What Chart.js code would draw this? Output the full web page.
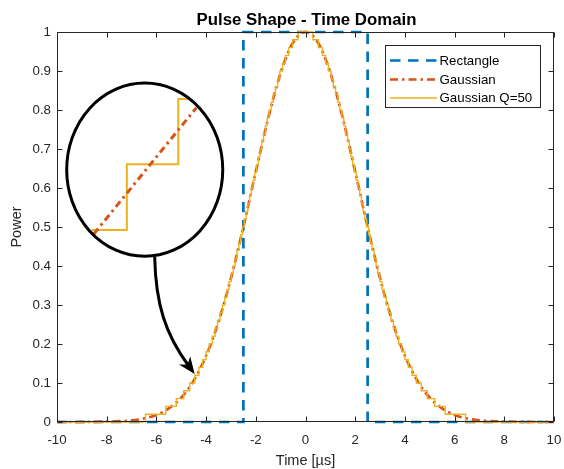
<!DOCTYPE html>
<html>
<head>
<meta charset="utf-8">
<script src="https://cdn.jsdelivr.net/npm/chart.js@4.4.1/dist/chart.umd.min.js"></script>
<style>
  html, body { margin: 0; padding: 0; background: #fff; }
  canvas { display: block; }
</style>
</head>
<body>
<canvas id="pulse" width="564" height="469"></canvas>
<script>
///////////////////////////////////////////////////////////////
// data
///////////////////////////////////////////////////////////////

const rectX = [-10, -2.5, -2.5, 2.5, 2.5, 10];
const rectY = [0, 0, 1, 1, 0, 0];

const timeX = [-10, -9, -8, -7.5, -7, -6.5, -6, -5.5, -5, -4.5, -4, -3.5, -3, -2.5, -2, -1.5, -1, -0.5,
  0, 0.5, 1, 1.5, 2, 2.5, 3, 3.5, 4, 4.5, 5, 5.5, 6, 6.5, 7, 7.5, 8, 9, 10];
const gaussY = [0, 0.0001, 0.001, 0.002, 0.004, 0.009, 0.018, 0.035, 0.0625, 0.106, 0.170, 0.257, 0.369, 0.500, 0.642, 0.779, 0.895, 0.973,
  1, 0.973, 0.895, 0.779, 0.642, 0.500, 0.369, 0.257, 0.170, 0.106, 0.0625, 0.035, 0.018, 0.009, 0.004, 0.002, 0.001, 0.0001, 0];

// quantised gaussian: x where the level changes, and the level from there on
const quantX = [-10, -6.44, -5.62, -5.20, -4.90, -4.66, -4.46, -4.29, -4.14, -4.00, -3.87, -3.75, -3.64, -3.54, -3.44, -3.34,
  -3.25, -3.16, -3.08, -2.99, -2.91, -2.84, -2.76, -2.68, -2.61, -2.54, -2.46, -2.39, -2.32, -2.25, -2.18, -2.11, -2.04,
  -1.97, -1.90, -1.83, -1.76, -1.69, -1.61, -1.54, -1.46, -1.38, -1.30, -1.21, -1.12, -1.03, -0.92, -0.81, -0.68, -0.52, -0.30,
  0.30, 0.52, 0.68, 0.81, 0.92, 1.03, 1.12, 1.21, 1.30, 1.38, 1.46, 1.54, 1.61, 1.69, 1.76, 1.83, 1.90, 1.97, 2.04,
  2.11, 2.18, 2.25, 2.32, 2.39, 2.46, 2.54, 2.61, 2.68, 2.76, 2.84, 2.91, 2.99, 3.08, 3.16, 3.25, 3.34, 3.44, 3.54,
  3.64, 3.75, 3.87, 4.00, 4.14, 4.29, 4.46, 4.66, 4.90, 5.20, 5.62, 6.44, 10];
const quantY = [0, 0.02, 0.04, 0.06, 0.08, 0.10, 0.12, 0.14, 0.16, 0.18, 0.20, 0.22, 0.24, 0.26, 0.28, 0.30,
  0.32, 0.34, 0.36, 0.38, 0.40, 0.42, 0.44, 0.46, 0.48, 0.50, 0.52, 0.54, 0.56, 0.58, 0.60, 0.62, 0.64,
  0.66, 0.68, 0.70, 0.72, 0.74, 0.76, 0.78, 0.80, 0.82, 0.84, 0.86, 0.88, 0.90, 0.92, 0.94, 0.96, 0.98, 1.00,
  0.98, 0.96, 0.94, 0.92, 0.90, 0.88, 0.86, 0.84, 0.82, 0.80, 0.78, 0.76, 0.74, 0.72, 0.70,
  0.68, 0.66, 0.64, 0.62, 0.60, 0.58, 0.56, 0.54, 0.52, 0.50, 0.48, 0.46, 0.44, 0.42, 0.40, 0.38, 0.36, 0.34,
  0.32, 0.30, 0.28, 0.26, 0.24, 0.22, 0.20, 0.18, 0.16, 0.14, 0.12, 0.10, 0.08, 0.06, 0.04, 0.02, 0, 0];

// zoomed inset (drawn in data units)
const insetStepX = [-8.62, -7.19, -7.19, -5.12, -5.12, -4.73];
const insetStepY = [0.492, 0.492, 0.661, 0.661, 0.828, 0.828];
const insetLineX = [-8.52, -4.39];
const insetLineY = [0.482, 0.806];
const lensCenter = [-6.47, 0.647];
const lensRadius = [3.14, 0.222];
// arrow: start, two control points, tip
const arrowX = [-6.07, -6.03, -5.63, -4.46];
const arrowY = [0.424, 0.301, 0.224, 0.123];

const xTicks = [-10, 10, 2];
const yTicks = [0, 1, 0.1];

///////////////////////////////////////////////////////////////
// helpers
///////////////////////////////////////////////////////////////

const FONT = 'Liberation Sans, Arial, Helvetica, sans-serif';
const INK = '#262626';
const C_RECT = '#0072BD';
const C_GAUSS = '#D95319';
const C_QUANT = '#EDB120';

const DASH_RECT = [10.5, 7.5];
const DASH_GAUSS = [8, 4, 2.5, 4];

function pts(xs, ys) {
  return xs.map((x, i) => ({ x, y: ys[i] }));
}

///////////////////////////////////////////////////////////////
// overlay: box, inward ticks, titles, legend, lens + arrow
///////////////////////////////////////////////////////////////

const overlay = {
  id: 'overlay',
  afterDatasetsDraw(chart) {
    const { ctx, chartArea: a, scales: { x, y } } = chart;
    const L = Math.round(a.left) + 0.5, R = Math.round(a.right) - 0.5;
    const T = Math.round(a.top) + 0.5, B = Math.round(a.bottom) - 0.5;

    ctx.save();

    // lens
    const cx = x.getPixelForValue(lensCenter[0]);
    const cy = y.getPixelForValue(lensCenter[1]);
    const rx = x.getPixelForValue(lensCenter[0] + lensRadius[0]) - cx;
    const ry = cy - y.getPixelForValue(lensCenter[1] + lensRadius[1]);
    ctx.strokeStyle = '#000';
    ctx.lineWidth = 3;
    ctx.beginPath();
    ctx.ellipse(cx, cy, rx, ry, 0, 0, Math.PI * 2);
    ctx.stroke();

    // arrow
    const ap = arrowX.map((v, i) => [x.getPixelForValue(v), y.getPixelForValue(arrowY[i])]);
    const tip = ap[3];
    let dx = tip[0] - ap[2][0], dy = tip[1] - ap[2][1];
    const len = Math.hypot(dx, dy);
    dx /= len; dy /= len;
    const headL = 17, headW = 7;
    ctx.beginPath();
    ctx.moveTo(ap[0][0], ap[0][1]);
    ctx.bezierCurveTo(ap[1][0], ap[1][1], ap[2][0], ap[2][1], tip[0] - dx * 10, tip[1] - dy * 10);
    ctx.stroke();
    ctx.fillStyle = '#000';
    ctx.beginPath();
    ctx.moveTo(tip[0], tip[1]);
    ctx.lineTo(tip[0] - dx * headL - dy * headW, tip[1] - dy * headL + dx * headW);
    ctx.lineTo(tip[0] - dx * headL * 0.7, tip[1] - dy * headL * 0.7);
    ctx.lineTo(tip[0] - dx * headL + dy * headW, tip[1] - dy * headL - dx * headW);
    ctx.closePath();
    ctx.fill();

    // axes box + inward ticks
    ctx.strokeStyle = INK;
    ctx.lineWidth = 1;
    ctx.setLineDash([]);
    ctx.strokeRect(L, T, R - L, B - T);
    ctx.beginPath();
    x.ticks.forEach(t => {
      const px = Math.round(x.getPixelForValue(t.value)) + 0.5;
      ctx.moveTo(px, B); ctx.lineTo(px, B - 5);
      ctx.moveTo(px, T); ctx.lineTo(px, T + 5);
    });
    y.ticks.forEach(t => {
      const py = Math.round(y.getPixelForValue(t.value)) + 0.5;
      ctx.moveTo(L, py); ctx.lineTo(L + 5, py);
      ctx.moveTo(R, py); ctx.lineTo(R - 5, py);
    });
    ctx.stroke();

    // title + axis labels
    const midX = (a.left + a.right) / 2;
    ctx.fillStyle = '#000';
    ctx.textAlign = 'center';
    ctx.textBaseline = 'alphabetic';
    ctx.font = `bold 16.8px ${FONT}`;
    ctx.fillText('Pulse Shape - Time Domain', midX + 1, 25);
    ctx.fillStyle = INK;
    ctx.font = `14.5px ${FONT}`;
    ctx.fillText('Time [µs]', midX, 465);
    ctx.textBaseline = 'middle';
    ctx.save();
    ctx.translate(17, (a.top + a.bottom) / 2);
    ctx.rotate(-Math.PI / 2);
    ctx.fillText('Power', 0, 0);
    ctx.restore();

    // legend
    const lx = 385.5, ly = 45.5, lw = 155, lh = 62;
    ctx.fillStyle = '#fff';
    ctx.fillRect(lx, ly, lw, lh);
    ctx.strokeStyle = INK;
    ctx.lineWidth = 1;
    ctx.strokeRect(lx, ly, lw, lh);
    const rows = [60.5, 79.5, 98];
    chart.data.datasets.slice(0, 3).forEach((ds, i) => {
      ctx.strokeStyle = ds.borderColor;
      ctx.lineWidth = ds.borderWidth;
      ctx.setLineDash(ds.borderDash || []);
      ctx.beginPath();
      ctx.moveTo(390, rows[i]);
      ctx.lineTo(437, rows[i]);
      ctx.stroke();
      ctx.setLineDash([]);
      ctx.fillStyle = '#000';
      ctx.textAlign = 'left';
      ctx.font = `13.3px ${FONT}`;
      ctx.fillText(ds.label, 439.5, rows[i] + 0.5);
    });

    ctx.restore();
  }
};

///////////////////////////////////////////////////////////////
// chart
///////////////////////////////////////////////////////////////

const tickFont = { family: FONT, size: 13.3 };

new Chart(document.getElementById('pulse'), {
  type: 'line',
  data: {
    datasets: [
      {
        label: 'Rectangle',
        data: pts(rectX, rectY),
        borderColor: C_RECT,
        borderWidth: 2.7,
        borderDash: DASH_RECT,
        pointRadius: 0,
        tension: 0,
        clip: 5,
        order: 3
      },
      {
        label: 'Gaussian',
        data: pts(timeX, gaussY),
        borderColor: C_GAUSS,
        borderWidth: 2.7,
        borderDash: DASH_GAUSS,
        pointRadius: 0,
        cubicInterpolationMode: 'monotone',
        clip: 5,
        order: 2
      },
      {
        label: 'Gaussian Q=50',
        data: pts(quantX, quantY),
        borderColor: C_QUANT,
        borderWidth: 1.4,
        stepped: 'before',
        pointRadius: 0,
        clip: 5,
        order: 1
      },
      {
        label: 'inset-gauss',
        data: pts(insetLineX, insetLineY),
        borderColor: C_GAUSS,
        borderWidth: 3,
        borderDash: [7, 4, 2.5, 4],
        pointRadius: 0,
        order: 0
      },
      {
        label: 'inset-quant',
        data: pts(insetStepX, insetStepY),
        borderColor: C_QUANT,
        borderWidth: 2,
        pointRadius: 0,
        order: 1
      }
    ]
  },
  options: {
    responsive: false,
    animation: false,
    devicePixelRatio: 1,
    layout: { padding: { top: 32, right: 10, left: 0, bottom: 0 } },
    plugins: {
      legend: { display: false },
      title: { display: false },
      tooltip: { enabled: false }
    },
    scales: {
      x: {
        type: 'linear',
        min: xTicks[0],
        max: xTicks[1],
        grid: { display: false, drawTicks: false },
        border: { display: false },
        ticks: {
          stepSize: xTicks[2],
          autoSkip: false,
          maxRotation: 0,
          padding: 10,
          color: INK,
          font: tickFont
        },
        afterFit: (s) => { s.height = 47; s.paddingLeft = 0; s.paddingRight = 0; }
      },
      y: {
        min: yTicks[0],
        max: yTicks[1],
        grid: { display: false, drawTicks: false },
        border: { display: false },
        ticks: {
          stepSize: yTicks[2],
          autoSkip: false,
          padding: 6,
          color: INK,
          font: tickFont,
          callback: (v) => String(parseFloat(Number(v).toFixed(1)))
        },
        afterFit: (s) => { s.width = 57; s.paddingTop = 0; s.paddingBottom = 0; }
      }
    }
  },
  plugins: [overlay]
});
</script>
</body>
</html>
